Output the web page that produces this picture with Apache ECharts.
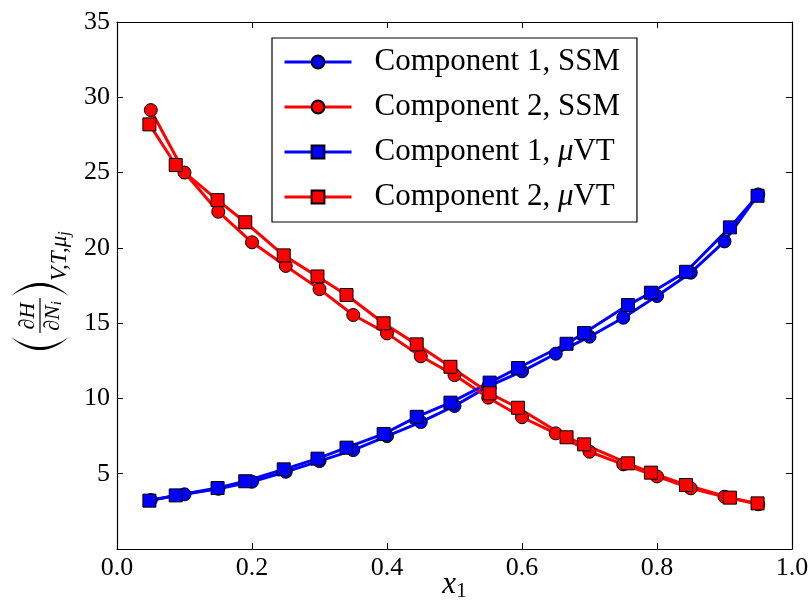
<!DOCTYPE html>
<html>
<head>
<meta charset="utf-8">
<script src="https://cdn.jsdelivr.net/npm/echarts@6/dist/echarts.min.js"></script>
<style>
  html, body { margin: 0; padding: 0; background: #fff; }
  #chart { width: 812px; height: 600px; }
</style>
</head>
<body>
<div id="chart"></div>
<script>
// Mole fraction of component 1 for each method
const xSSM = [0.05, 0.10, 0.15, 0.20, 0.25, 0.30, 0.35, 0.40, 0.45, 0.50, 0.55, 0.60, 0.65, 0.70, 0.75, 0.80, 0.85, 0.90, 0.95];
const xMuVT = [0.048, 0.087, 0.149, 0.190, 0.247, 0.297, 0.340, 0.395, 0.444, 0.494, 0.552, 0.594, 0.666, 0.692, 0.757, 0.791, 0.843, 0.908, 0.949];

// Partial molar enthalpies
const comp1SSM = [3.25, 3.63, 4.00, 4.47, 5.13, 5.84, 6.57, 7.50, 8.43, 9.50, 10.80, 11.80, 12.97, 14.10, 15.36, 16.80, 18.35, 20.43, 23.55];
const comp2SSM = [29.15, 25.00, 22.40, 20.37, 18.80, 17.26, 15.54, 14.32, 12.80, 11.55, 10.05, 8.75, 7.68, 6.46, 5.62, 4.82, 4.03, 3.47, 2.97];
const comp1MuVT = [3.21, 3.56, 4.05, 4.50, 5.29, 6.00, 6.73, 7.64, 8.78, 9.72, 11.05, 12.02, 13.63, 14.34, 16.20, 17.02, 18.41, 21.36, 23.46];
const comp2MuVT = [28.20, 25.50, 23.17, 21.70, 19.50, 18.10, 16.87, 14.99, 13.59, 12.10, 10.34, 9.38, 7.42, 6.95, 5.69, 5.07, 4.25, 3.41, 3.03];

const seriesNames = ['Component 1, SSM', 'Component 2, SSM', 'Component 1, μVT', 'Component 2, μVT'];
const xTicks = [0.0, 0.2, 0.4, 0.6, 0.8, 1.0];
const yTicks = [0, 5, 10, 15, 20, 25, 30, 35];

const FONT = 'Liberation Serif';
const BLUE = '#0000ff';
const RED = '#ff0000';

function pairs(xs, ys) {
  return xs.map((x, i) => [x, ys[i]]);
}

function makeSeries(name, xs, ys, color, symbol, size) {
  return {
    name: name,
    type: 'line',
    xAxisIndex: 0,
    yAxisIndex: 0,
    data: pairs(xs, ys),
    symbol: symbol,
    symbolSize: size,
    showAllSymbol: true,
    lineStyle: { color: color, width: 3 },
    itemStyle: { color: color, borderColor: '#000', borderWidth: 1, opacity: 1 },
    emphasis: { disabled: true },
    animation: false
  };
}

// Crescent outline for a tall bracket: tips at (tipX, ±half),
// outer bulge reaching outerX and inner edge reaching innerX at the middle.
function bracketPoints(tipX, outerX, innerX, half) {
  const pts = [];
  const n = 24;
  for (let k = 0; k <= n; k++) {
    const t = -1 + 2 * k / n;
    pts.push([tipX + (outerX - tipX) * (1 - t * t), half * t]);
  }
  for (let k = n; k >= 0; k--) {
    const t = -1 + 2 * k / n;
    pts.push([tipX + (innerX - tipX) * (1 - t * t), half * t]);
  }
  return pts;
}

const chart = echarts.init(document.getElementById('chart'), null, { renderer: 'canvas' });

const axisCommon = {
  type: 'value',
  splitLine: { show: false },
  axisLine: { show: true, onZero: false, lineStyle: { color: '#000', width: 1.2 } },
  axisTick: { show: true, inside: true, length: 6, lineStyle: { color: '#000', width: 1 } }
};

const option = {
  backgroundColor: '#fff',
  animation: false,
  grid: { left: 117, right: 20, top: 22, bottom: 51, containLabel: false, outerBoundsMode: 'none' },
  xAxis: [
    Object.assign({}, axisCommon, {
      position: 'bottom',
      min: xTicks[0], max: xTicks[xTicks.length - 1], interval: 0.2,
      axisLabel: {
        margin: 6, color: '#000', fontFamily: FONT, fontSize: 26,
        formatter: v => v.toFixed(1)
      },
      name: '{i|x}{s|1}',
      nameLocation: 'middle',
      nameGap: 19,
      nameMoveOverlap: false,
      nameTextStyle: {
        verticalAlign: 'top',
        rich: {
          i: { fontFamily: FONT, fontStyle: 'italic', fontSize: 31, color: '#000', lineHeight: 34 },
          s: { fontFamily: FONT, fontSize: 21, color: '#000', lineHeight: 34, padding: [12, 0, 0, 0] }
        }
      }
    }),
    Object.assign({}, axisCommon, {
      position: 'top',
      min: xTicks[0], max: xTicks[xTicks.length - 1], interval: 0.2,
      axisLabel: { show: false }
    })
  ],
  yAxis: [
    Object.assign({}, axisCommon, {
      position: 'left',
      min: yTicks[0], max: yTicks[yTicks.length - 1], interval: 5,
      axisLabel: {
        margin: 7, color: '#000', fontFamily: FONT, fontSize: 26,
        showMinLabel: false
      }
    }),
    Object.assign({}, axisCommon, {
      position: 'right',
      min: yTicks[0], max: yTicks[yTicks.length - 1], interval: 5,
      axisLabel: { show: false }
    })
  ],
  legend: {
    orient: 'vertical',
    left: 272,
    top: 38,
    padding: [8, 17, 9, 11],
    itemGap: 13,
    itemWidth: 67,
    itemHeight: 16,
    backgroundColor: '#fff',
    borderColor: '#000',
    borderWidth: 1.2,
    borderRadius: 0,
    selectedMode: false,
    data: seriesNames,
    lineStyle: { width: 3 },
    formatter: function (name) {
      return name.replace('μ', '{m|μ}');
    },
    textStyle: {
      fontFamily: FONT,
      fontSize: 31,
      color: '#000',
      lineHeight: 32,
      padding: [0, 0, 0, 18],
      rich: {
        m: { fontFamily: FONT, fontStyle: 'italic', fontSize: 31, color: '#000' }
      }
    }
  },
  graphic: [
    {
      type: 'group',
      x: 40,
      y: 352,
      rotation: Math.PI / 2,
      children: [
        { type: 'polygon', shape: { points: bracketPoints(15, 2, 5, 29) }, style: { fill: '#000' } },
        { type: 'text', x: 36, y: -12, style: { text: '∂H', font: 'italic 22px "Liberation Serif"', fill: '#000', align: 'center', verticalAlign: 'middle' } },
        { type: 'line', shape: { x1: 19, y1: 0, x2: 54, y2: 0 }, style: { stroke: '#000', lineWidth: 1.2 } },
        {
          type: 'text', x: 36, y: 13,
          style: {
            text: '{a|∂N}{b|i}', align: 'center', verticalAlign: 'middle', fill: '#000',
            rich: {
              a: { fontFamily: FONT, fontStyle: 'italic', fontSize: 22, fill: '#000' },
              b: { fontFamily: FONT, fontStyle: 'italic', fontSize: 15, fill: '#000', padding: [9, 0, 0, 0] }
            }
          }
        },
        { type: 'polygon', shape: { points: bracketPoints(56, 69, 66, 29) }, style: { fill: '#000' } },
        {
          type: 'text', x: 71, y: 20,
          style: {
            text: '{a|V,T,μ}{b|j}', align: 'left', verticalAlign: 'middle', fill: '#000',
            rich: {
              a: { fontFamily: FONT, fontStyle: 'italic', fontSize: 23, fill: '#000' },
              b: { fontFamily: FONT, fontStyle: 'italic', fontSize: 16, fill: '#000', padding: [10, 0, 0, 0] }
            }
          }
        }
      ]
    }
  ],
  series: [
    makeSeries(seriesNames[0], xSSM, comp1SSM, BLUE, 'circle', 13),
    makeSeries(seriesNames[1], xSSM, comp2SSM, RED, 'circle', 13),
    makeSeries(seriesNames[2], xMuVT, comp1MuVT, BLUE, 'rect', 13),
    makeSeries(seriesNames[3], xMuVT, comp2MuVT, RED, 'rect', 13)
  ]
};

chart.setOption(option);
</script>
</body>
</html>
